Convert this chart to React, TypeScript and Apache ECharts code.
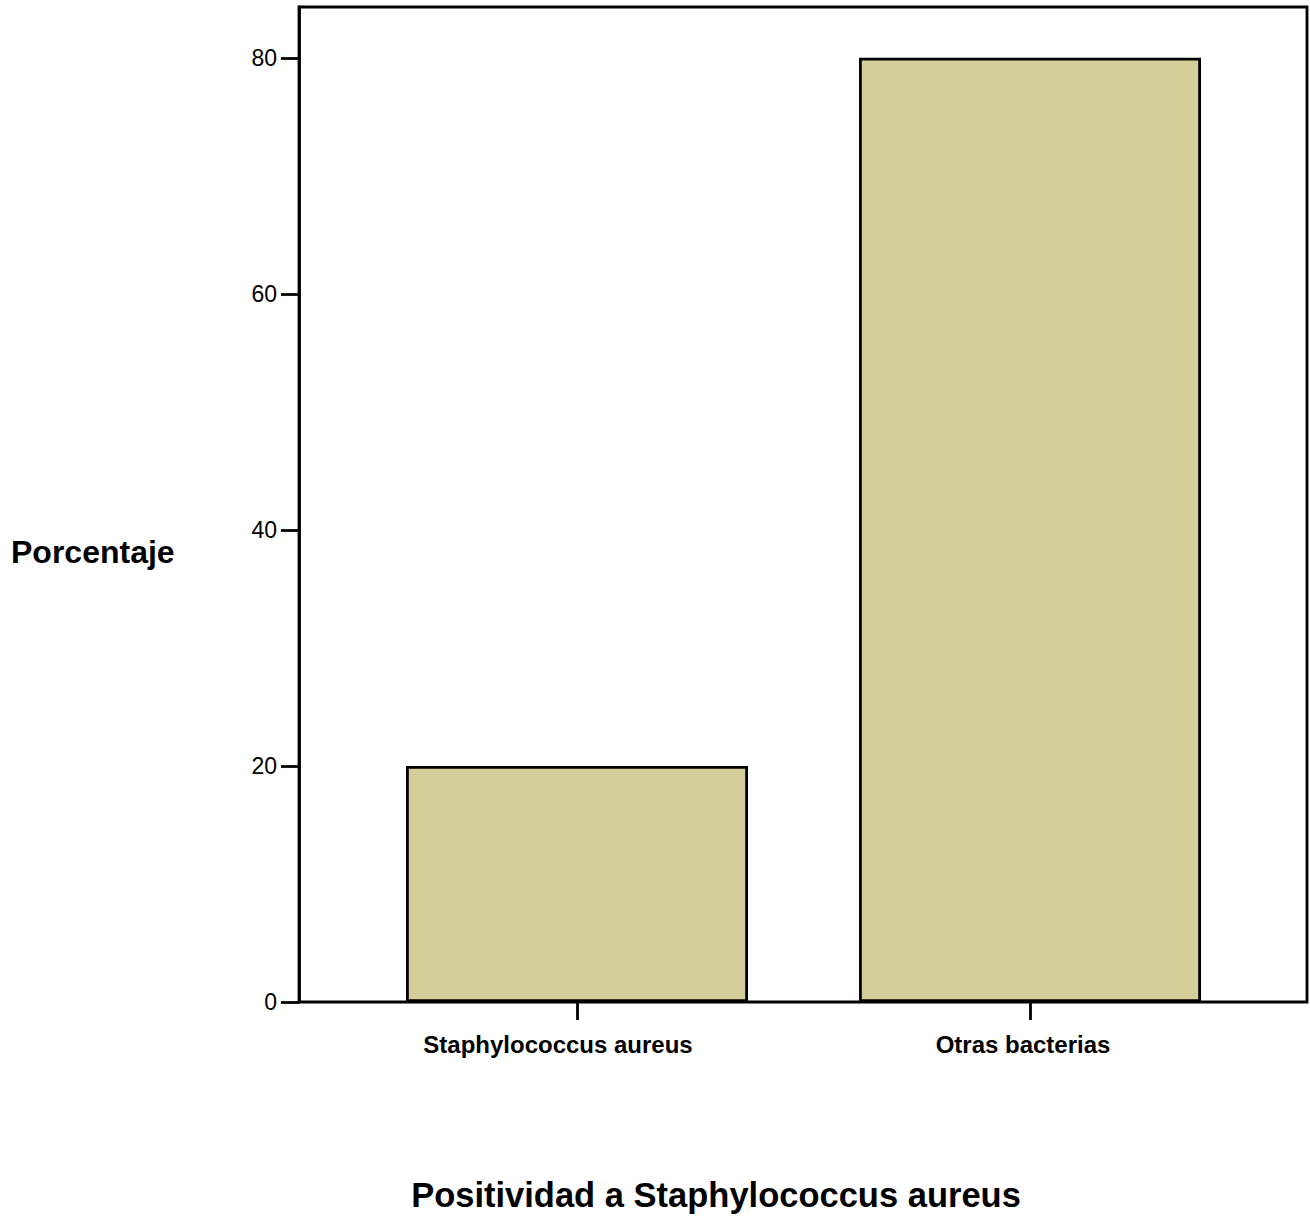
import React, { useEffect, useRef } from "react";
import * as echarts from "echarts";

const categories = ["Staphylococcus aureus", "Otras bacterias"];
const percentages = [20, 80];
const yTicks = [0, 20, 40, 60, 80];
const yTitle = "Porcentaje";
const xTitle = "Positividad a Staphylococcus aureus";

const FONT = "'Liberation Sans', Arial, sans-serif";
const Y_MAX = 84.3;
const LW = 2.8;

export default function App() {
  const ref = useRef<HTMLDivElement>(null);
  useEffect(() => {
    document.body.style.margin = "0";
    if (!ref.current) return;
    const chart = echarts.init(ref.current, undefined, { renderer: "svg" });
    chart.setOption({
      animation: false,
      backgroundColor: "#fff",
      grid: [
        { left: 299, top: 7, width: 1008, height: 995, show: true, borderColor: "#000", borderWidth: LW, backgroundColor: "transparent" },
        { left: 350.5, top: 7, width: 906, height: 995 },
      ],
      xAxis: [
        { gridIndex: 0, type: "value", show: false, min: 0, max: 1 },
        {
          gridIndex: 1,
          type: "category",
          data: categories,
          axisLine: { show: false },
          axisTick: { show: true, alignWithLabel: true, length: 18, lineStyle: { color: "#000", width: LW } },
          axisLabel: {
            margin: 30,
            fontFamily: FONT,
            fontSize: 24,
            fontWeight: "bold",
            color: "#000",
            formatter: (v: string, i: number) => (i === 0 ? `{a|${v}}` : `{b|${v}}`),
            rich: {
              a: { fontFamily: FONT, fontSize: 24, fontWeight: "bold", color: "#000", padding: [0, 38, 0, 0] },
              b: { fontFamily: FONT, fontSize: 24, fontWeight: "bold", color: "#000", padding: [0, 14, 0, 0] },
            },
          },
        },
      ],
      yAxis: [
        {
          gridIndex: 0,
          type: "value",
          min: 0,
          max: Y_MAX,
          interval: 20,
          axisLine: { show: true, lineStyle: { color: "#000", width: LW } },
          axisTick: { show: true, length: 18, customValues: yTicks, lineStyle: { color: "#000", width: LW } },
          splitLine: { show: false },
          axisLabel: {
            margin: 22,
            fontFamily: FONT,
            fontSize: 23,
            color: "#000",
            customValues: yTicks,
            formatter: (v: number) => String(v),
          },
        },
        { gridIndex: 1, type: "value", min: 0, max: Y_MAX, show: false },
      ],
      series: [
        {
          type: "bar",
          xAxisIndex: 1,
          yAxisIndex: 1,
          data: percentages,
          barWidth: 342,
          itemStyle: { color: "#D3CE9A", borderColor: "#000", borderWidth: LW },
        },
      ],
      graphic: [
        {
          type: "text",
          left: 11,
          top: 536,
          style: { text: yTitle, fontFamily: FONT, fontSize: 32, fontWeight: "bold", fill: "#000" },
        },
        {
          type: "text",
          x: 716,
          y: 1195,
          style: { text: xTitle, fontFamily: FONT, fontSize: 34.5, fontWeight: "bold", fill: "#000", align: "center", verticalAlign: "middle" },
        },
      ],
    });
    return () => chart.dispose();
  }, []);
  return <div ref={ref} style={{ width: 1310, height: 1220 }} />;
}
